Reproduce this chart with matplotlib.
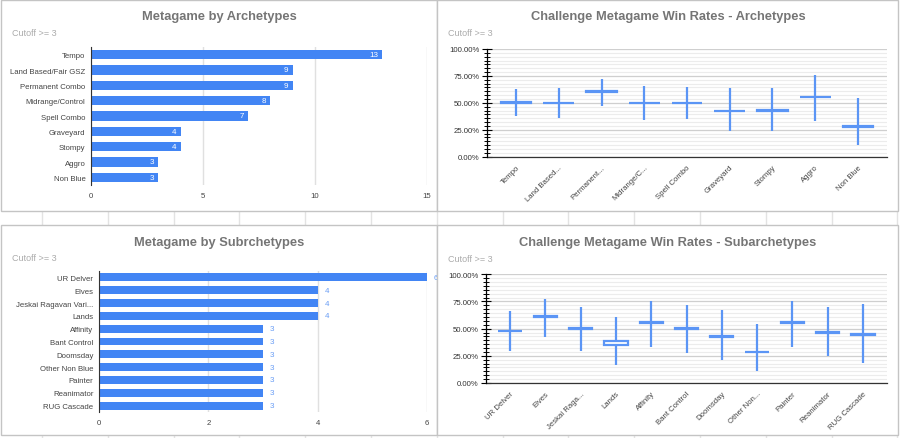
import numpy as np
import matplotlib
matplotlib.use('Agg')
import matplotlib.pyplot as plt
from matplotlib.patches import Rectangle
from matplotlib.transforms import Bbox, TransformedBbox
from matplotlib.ticker import FixedLocator, PercentFormatter

plt.rcParams['font.family'] = ['Liberation Sans', 'DejaVu Sans']

# data
arch_names = ['Tempo', 'Land Based/Fair GSZ', 'Permanent Combo', 'Midrange/Control',
              'Spell Combo', 'Graveyard', 'Stompy', 'Aggro', 'Non Blue']
arch_counts = [13, 9, 9, 8, 7, 4, 4, 3, 3]

sub_names = ['UR Delver', 'Elves', 'Jeskai Ragavan Vari...', 'Lands', 'Affinity',
             'Bant Control', 'Doomsday', 'Other Non Blue', 'Painter', 'Reanimator',
             'RUG Cascade']
sub_counts = [6, 4, 4, 4, 3, 3, 3, 3, 3, 3, 3]

arch_short = ['Tempo', 'Land Based...', 'Permanent...', 'Midrange/C...', 'Spell Combo',
              'Graveyard', 'Stompy', 'Aggro', 'Non Blue']
arch_low = [37.5, 35.6, 47.4, 33.7, 34.7, 23.8, 23.8, 33.1, 11.1]
arch_open = [50.2, 49.5, 60.0, 49.5, 49.5, 42.0, 42.5, 55.0, 28.0]
arch_close = [51.0, 50.2, 60.8, 50.2, 50.2, 42.8, 43.6, 55.8, 28.6]
arch_high = [62.8, 63.8, 71.8, 65.9, 65.0, 63.5, 63.5, 75.5, 54.5]

sub_short = ['UR Delver', 'Elves', 'Jeskai Raga...', 'Lands', 'Affinity', 'Bant Control',
             'Doomsday', 'Other Non...', 'Painter', 'Reanimator', 'RUG Cascade']
sub_low = [29.8, 42.3, 29.8, 16.6, 33.4, 27.6, 21.2, 11.3, 33.4, 24.8, 18.4]
sub_open = [47.5, 61.0, 49.6, 35.3, 55.1, 49.6, 42.3, 28.2, 55.1, 46.3, 44.2]
sub_close = [48.2, 61.7, 50.3, 39.0, 55.8, 50.3, 43.0, 28.8, 55.8, 47.0, 44.9]
sub_high = [66.3, 77.3, 69.9, 61.0, 75.5, 71.8, 67.2, 54.3, 75.5, 69.9, 73.0]

W, H = 900, 439
BLUE = '#4285f4'
CANDLE = '#5b95f5'
TITLE_C = '#757575'
SUB_C = '#ababab'
TXT = '#333333'

fig = plt.figure(figsize=(W / 100, H / 100), dpi=100)

bg = fig.add_axes([0, 0, 1, 1])
bg.set_xlim(0, W)
bg.set_ylim(H, 0)
bg.axis('off')

# spreadsheet cell lines peeking between the panels
for cx in np.arange(42, W, 65.8):
    bg.plot([cx, cx], [212, 226], color='#e3e3e3', lw=1, zorder=0)
    bg.plot([cx, cx], [436, H], color='#e3e3e3', lw=1, zorder=0)

panels = [(1, 1, 437, 212), (437, 1, 898, 212), (1, 226, 437, 436), (437, 226, 898, 436)]
for x0, y0, x1, y1 in panels:
    bg.add_patch(Rectangle((x0, y0), x1 - x0, y1 - y0, facecolor='white',
                           edgecolor='#c4c4c4', lw=1, zorder=1))


def px_axes(x0, y0, x1, y1):
    ax = fig.add_axes([x0 / W, 1 - y1 / H, (x1 - x0) / W, (y1 - y0) / H])
    ax.set_facecolor('none')
    return ax


def headings(cx, ty, sx, sy, title):
    bg.text(cx, ty, title, ha='center', va='center', fontsize=9.3,
            fontweight='bold', color=TITLE_C, zorder=3)
    bg.text(sx, sy, 'Cutoff >= 3', ha='left', va='center', fontsize=6.5,
            color=SUB_C, zorder=3)


headings(219, 17, 12, 33, 'Metagame by Archetypes')
headings(668, 17, 448, 34, 'Challenge Metagame Win Rates - Archetypes')
headings(219, 243, 12, 259, 'Metagame by Subrchetypes')
headings(668, 243, 448, 260, 'Challenge Metagame Win Rates - Subarchetypes')


def bar_chart(ax, names, counts, xmax, step, inside, clip_px):
    y = np.arange(len(names))
    ax.barh(y, counts, height=0.62, color=BLUE, zorder=2)
    ax.set_ylim(len(names) - 0.5, -0.5)
    ax.set_xlim(0, xmax)
    ax.set_yticks(y)
    ax.set_yticklabels(names, fontsize=5.6, color=TXT)
    ax.set_xticks(np.arange(0, xmax + 1, step))
    ax.tick_params(axis='both', length=0, labelsize=5.6, labelcolor='#444444')
    ax.tick_params(axis='y', pad=4)
    ax.tick_params(axis='x', pad=5)
    ax.grid(axis='x', color='#e0e0e0', lw=1, zorder=0)
    for s in ['top', 'right', 'bottom']:
        ax.spines[s].set_visible(False)
    ax.spines['left'].set_color('#333333')
    ax.spines['left'].set_zorder(3)
    clip = TransformedBbox(Bbox.from_extents(clip_px[0], H - clip_px[3], clip_px[2], H - clip_px[1]),
                           fig.dpi_scale_trans + matplotlib.transforms.Affine2D().scale(1 / fig.dpi))
    for yi, v in zip(y, counts):
        if inside:
            ax.annotate(str(v), (v, yi), xytext=(-3, 0), textcoords='offset points',
                        ha='right', va='center', fontsize=5.8, color='white', zorder=4)
        else:
            t = ax.annotate(str(v), (v, yi), xytext=(5, 0), textcoords='offset points',
                            ha='left', va='center', fontsize=5.8, color='#6a9ef5',
                            zorder=4, annotation_clip=False)
            t.set_clip_box(clip)
            t.set_clip_on(True)


def candle_chart(ax, names, low, o, c, high, width):
    x = np.arange(len(names))
    ax.vlines(x, low, high, color=CANDLE, lw=1.6, zorder=3)
    lo = np.minimum(o, c)
    ax.bar(x, np.abs(np.array(c) - np.array(o)), bottom=lo, width=width,
           facecolor='white', edgecolor=CANDLE, lw=1.6, zorder=4)
    ax.set_ylim(0, 100)
    ax.set_xlim(-0.68, len(names) - 1 + 0.68)
    ax.yaxis.set_major_locator(FixedLocator([0, 25, 50, 75, 100]))
    ax.yaxis.set_minor_locator(FixedLocator(np.arange(0, 100.01, 25 / 7)))
    ax.yaxis.set_major_formatter(PercentFormatter(decimals=2))
    ax.grid(axis='y', which='major', color='#cfcfcf', lw=0.9, zorder=0)
    ax.grid(axis='y', which='minor', color='#ececec', lw=0.8, zorder=0)
    ax.tick_params(axis='y', which='major', direction='inout', length=7, width=0.8,
                   color='black', labelsize=5.6, labelcolor=TXT, pad=2)
    ax.tick_params(axis='y', which='minor', direction='inout', length=4, width=0.7,
                   color='black')
    ax.set_xticks(x)
    ax.set_xticklabels(names, rotation=45, ha='right', rotation_mode='anchor',
                       fontsize=5.6, color='#444444')
    ax.tick_params(axis='x', length=0, pad=5)
    for s in ['top', 'right']:
        ax.spines[s].set_visible(False)
    ax.spines['left'].set_color('black')
    ax.spines['left'].set_linewidth(0.9)
    ax.spines['bottom'].set_color('#333333')
    ax.spines['bottom'].set_linewidth(0.9)
    ax.spines['left'].set_zorder(5)


ax1 = px_axes(91, 48, 427, 186)
bar_chart(ax1, arch_names, arch_counts, 15, 5, True, panels[0])

ax3 = px_axes(99, 272, 427, 413)
bar_chart(ax3, sub_names, sub_counts, 6, 2, False, panels[2])

ax2 = px_axes(487, 50, 887, 157.7)
candle_chart(ax2, arch_short, arch_low, arch_open, arch_close, arch_high, 0.72)

ax4 = px_axes(486, 275.3, 887, 384)
candle_chart(ax4, sub_short, sub_low, sub_open, sub_close, sub_high, 0.66)

fig.savefig('out.png', dpi=100)
